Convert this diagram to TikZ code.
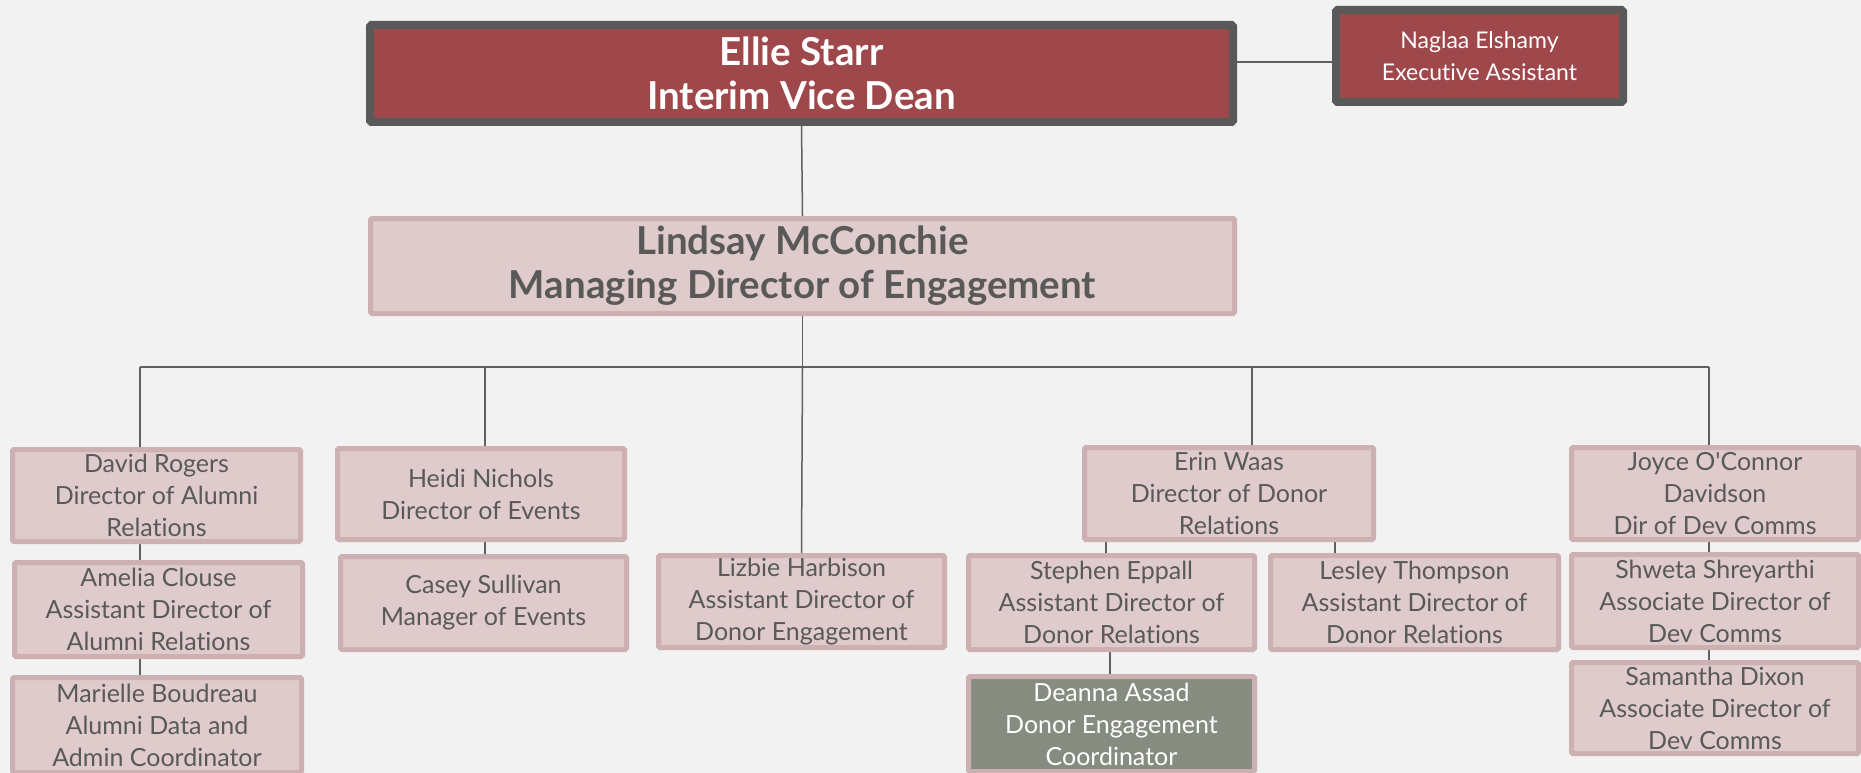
\documentclass[tikz,border=0pt]{standalone}
\usepackage{fontspec}
\setmainfont{Lato}[Ligatures={TeX,NoCommon}]
\usetikzlibrary{backgrounds}
\definecolor{bg}{HTML}{F2F2F2}
\definecolor{topfill}{HTML}{9E484B}
\definecolor{topline}{HTML}{595959}
\definecolor{pfill}{HTML}{DFCBCC}
\definecolor{pline}{HTML}{CDB0B2}
\definecolor{txt}{HTML}{595959}
\definecolor{gfill}{HTML}{878C81}
\definecolor{conncol}{HTML}{606060}
\tikzset{
  pbox/.style={draw=pline, line width=5pt, fill=pfill, text=txt, align=center, inner sep=0pt,
    anchor=north west, rounded corners=1.5pt, font=\fontsize{25}{32}\selectfont},
  gbox/.style={pbox, fill=gfill, text=white},
  topbox/.style={draw=topline, line width=8pt, fill=topfill, text=white, align=center, inner sep=0pt,
    anchor=north west, rounded corners=1.5pt},
  conn/.style={draw=conncol, line width=1.5pt},
}
\begin{document}
\begin{tikzpicture}[x=1pt,y=-1pt]
\useasboundingbox (0,0) rectangle (1861,773);
% top
\node[topbox, minimum width=863pt, minimum height=97pt, font=\bfseries\fontsize{38.5}{44}\selectfont] (ellie) at (366,21) {Ellie Starr\\Interim Vice Dean};
\node[topbox, minimum width=287pt, minimum height=92pt, font=\fontsize{23}{32}\selectfont] (naglaa) at (1332,6) {Naglaa Elshamy\\Executive Assistant};
\node[pbox, minimum width=864pt, minimum height=95pt, font=\bfseries\fontsize{38.5}{44}\selectfont] (lindsay) at (368,216) {\raisebox{-4pt}{\parbox{860pt}{\centering Lindsay McConchie\\Managing Director of Engagement}}};
% column 1
\node[pbox, minimum width=288pt, minimum height=92pt] (david) at (10,447) {David Rogers\\Director of Alumni\\Relations};
\node[pbox, minimum width=288pt, minimum height=94pt] (amelia) at (12,560) {Amelia Clouse\\Assistant Director of\\Alumni Relations};
\node[pbox, minimum width=289pt, minimum height=95pt] (marielle) at (10,675) {Marielle Boudreau\\Alumni Data and\\Admin Coordinator};
% column 2
\node[pbox, minimum width=287pt, minimum height=91pt] (heidi) at (335,446) {Heidi Nichols\\Director of Events};
\node[pbox, minimum width=286pt, minimum height=93pt] (casey) at (338,554) {Casey Sullivan\\Manager of Events};
% column 3
\node[pbox, minimum width=286pt, minimum height=92pt] (lizbie) at (656,553) {Lizbie Harbison\\Assistant Director of\\Donor Engagement};
% column 4
\node[pbox, minimum width=289pt, minimum height=92pt] (erin) at (1082,445) {Erin Waas\\Director of Donor\\Relations};
\node[pbox, minimum width=286pt, minimum height=94pt] (stephen) at (966,553) {Stephen Eppall\\Assistant Director of\\Donor Relations};
\node[pbox, minimum width=288pt, minimum height=94pt] (lesley) at (1268,553) {Lesley Thompson\\Assistant Director of\\Donor Relations};
\node[gbox, minimum width=286pt, minimum height=95pt] (deanna) at (966,674) {Deanna Assad\\Donor Engagement\\Coordinator};
% column 5
\node[pbox, minimum width=287pt, minimum height=92pt] (joyce) at (1569,445) {Joyce O\textquotesingle Connor\\Davidson\\Dir of Dev Comms};
\node[pbox, minimum width=287pt, minimum height=93pt] (shweta) at (1569,552) {Shweta Shreyarthi\\Associate Director of\\Dev Comms};
\node[pbox, minimum width=287pt, minimum height=91pt] (samantha) at (1569,660) {Samantha Dixon\\Associate Director of\\Dev Comms};
% connectors
\coordinate (busL) at (140,367);
\coordinate (busR) at (1709,367);
\coordinate (busH) at (485,367);
\coordinate (busE) at (1252,367);
\coordinate (xs) at (1106,0);
\coordinate (xl) at (1335,0);
\coordinate (xd) at (1110,0);
\begin{pgfonlayer}{background}
\fill[bg] (0,0) rectangle (1861,773);
\draw[conn] ([yshift=11.5pt]ellie.east) -- ([yshift=-6pt]naglaa.west);
\draw[conn] (ellie.south) -- (lindsay.north);
\draw[conn] (lindsay.south) -- (lindsay.south |- busL);
\draw[conn] (busL) -- (busR);
\draw[conn] (busL) -- (busL |- david.north);
\draw[conn] (busL |- david.south) -- (busL |- amelia.north);
\draw[conn] (busL |- amelia.south) -- (busL |- marielle.north);
\draw[conn] (busH) -- (busH |- heidi.north);
\draw[conn] (busH |- heidi.south) -- (busH |- casey.north);
\draw[conn] (lindsay.south |- busL) -- (lizbie.north);
\draw[conn] (busE) -- (busE |- erin.north);
\draw[conn] (xs |- erin.south) -- (xs |- stephen.north);
\draw[conn] (xl |- erin.south) -- ([yshift=-8pt]xl |- lesley.north);
\draw[conn] (xd |- stephen.south) -- (xd |- deanna.north);
\draw[conn] (busR) -- (busR |- joyce.north);
\draw[conn] (busR |- joyce.south) -- (busR |- shweta.north);
\draw[conn] (busR |- shweta.south) -- (busR |- samantha.north);
\end{pgfonlayer}
\end{tikzpicture}
\end{document}
